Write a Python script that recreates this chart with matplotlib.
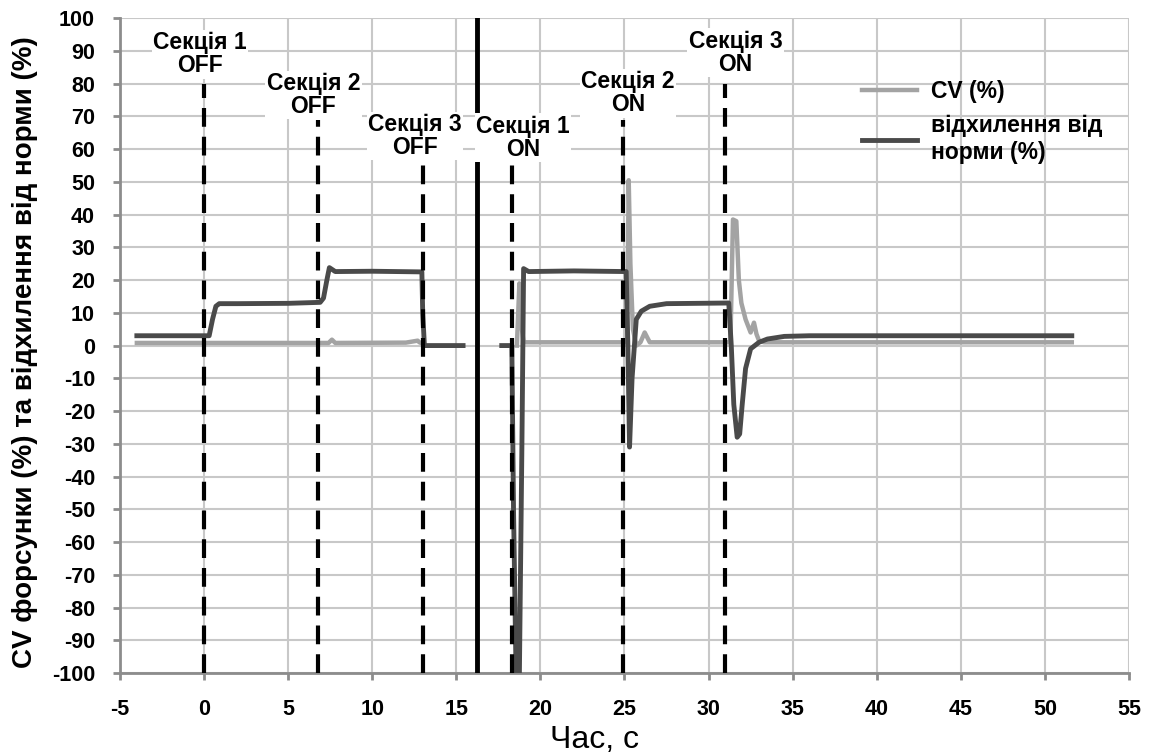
import numpy as np
import matplotlib
matplotlib.use("Agg")
import matplotlib.pyplot as plt

plt.rcParams['font.family'] = ['Liberation Sans', 'DejaVu Sans']
plt.rcParams['axes.unicode_minus'] = False

# відхилення від норми (%)
dev_t1 = [-4.0, 0.3, 0.5, 0.7, 0.9, 2.0, 5.0, 6.9, 7.1, 7.3, 7.45, 7.8, 10.0, 12.95, 13.0, 13.1, 15.4]
dev_v1 = [3.0, 3.0, 8.0, 12.0, 12.8, 12.8, 12.9, 13.2, 14.5, 20.0, 23.8, 22.6, 22.7, 22.5, 10.0, 0.0, 0.0]
dev_t2 = [17.7, 18.3, 18.4, 18.55, 18.75, 18.9, 19.0, 19.3, 22.0, 25.1, 25.2, 25.3, 25.45, 25.7, 26.0,
          26.5, 27.5, 31.2, 31.35, 31.5, 31.7, 31.85, 32.0, 32.2, 32.5, 33.0, 33.5, 34.5, 36.0, 51.6]
dev_v2 = [0.0, 0.0, -50.0, -100.0, -100.0, -30.0, 23.5, 22.6, 22.8, 22.6, 0.0, -31.0, -10.0, 8.0, 10.5,
          12.0, 12.8, 13.0, 0.0, -18.0, -28.0, -27.0, -18.0, -7.0, -1.0, 1.0, 2.0, 2.8, 3.0, 3.0]

# CV (%)
cv_t1 = [-4.0, 3.0, 7.4, 7.6, 7.8, 12.0, 12.7, 12.8, 12.9]
cv_v1 = [0.8, 0.8, 0.8, 1.8, 0.8, 0.9, 1.5, 1.0, 0.8]
cv_t2 = [18.6, 18.75, 18.9, 19.0, 22.0, 25.15, 25.25, 25.35, 25.5, 25.7, 25.95, 26.2, 26.5, 31.3, 31.45,
         31.65, 31.8, 31.95, 32.2, 32.5, 32.7, 32.85, 33.0, 33.3, 40.0, 51.6]
cv_v2 = [0.0, 19.0, 5.0, 1.0, 1.0, 1.0, 50.5, 25.0, 5.0, 0.0, 1.0, 4.0, 1.0, 1.0, 38.5,
         38.0, 20.0, 13.0, 8.0, 4.0, 7.0, 3.5, 1.5, 1.0, 1.0, 1.0]

# події
event_t = [0.0, 6.75, 13.0, 18.3, 24.9, 31.0]
event_top = [80, 69, 60, 56, 69, 80]
event_names = ['Секція 1\nOFF', 'Секція 2\nOFF', 'Секція 3\nOFF', 'Секція 1\nON', 'Секція 2\nON', 'Секція 3\nON']
label_x = [-0.25, 6.5, 12.55, 18.95, 25.2, 31.6]
label_y = [89.0, 76.5, 64.0, 63.5, 77.0, 89.5]
split_t = 16.25

c_dev = '#4a4a4a'
c_cv = '#a3a3a3'

fig = plt.figure(figsize=(11.52, 7.56), dpi=100)
ax = fig.add_axes([0.1042, 0.1098, 0.8758, 0.8662])

ax.plot(cv_t1, cv_v1, color=c_cv, lw=3.2, solid_joinstyle='round', zorder=3)
ax.plot(cv_t2, cv_v2, color=c_cv, lw=3.2, solid_joinstyle='round', zorder=3)
ax.plot(dev_t1, dev_v1, color=c_dev, lw=3.5, solid_joinstyle='round', zorder=4)
ax.plot(dev_t2, dev_v2, color=c_dev, lw=3.5, solid_joinstyle='round', zorder=4)

for t, top in zip(event_t, event_top):
    ax.plot([t, t], [-100, top], color='black', lw=3, linestyle=(0, (4.5, 2.4)), zorder=5)
ax.axvline(split_t, color='black', lw=3.5, zorder=5)

for x, y, s in zip(label_x, label_y, event_names):
    ax.text(x, y, s, ha='center', va='center', fontsize=16.5, fontweight='bold',
            linespacing=1.0, zorder=6,
            bbox=dict(facecolor='white', edgecolor='none', pad=1.0))

ax.set_xlim(-5, 55)
ax.set_ylim(-100, 100)
ax.set_xticks(np.arange(-5, 56, 5))
ax.set_yticks(np.arange(-100, 101, 10))
ax.grid(True, color='#c8c8c8', lw=1.5, zorder=0)
ax.set_axisbelow(True)
for side in ['top', 'right']:
    ax.spines[side].set_visible(False)
for side in ['left', 'bottom']:
    ax.spines[side].set_color('#8c8c8c')
    ax.spines[side].set_linewidth(2)
ax.tick_params(direction='out', length=5, width=2, color='#8c8c8c', labelsize=15.5)
ax.tick_params(axis='y', pad=13)
ax.tick_params(axis='x', pad=13.5)
for lab in ax.get_xticklabels() + ax.get_yticklabels():
    lab.set_fontweight('bold')

ax.set_ylabel('CV форсунки (%) та відхилення від норми (%)', fontsize=20, fontweight='bold')
ax.yaxis.set_label_coords(-0.081, 0.49)
ax.set_xlabel('Час, с', fontsize=23)
ax.xaxis.set_label_coords(0.47, -0.079)

h1, = ax.plot([], [], color=c_cv, lw=3.2)
h2, = ax.plot([], [], color=c_dev, lw=3.5)
ax.legend([h1, h2], ['CV (%)', 'відхилення від\nнорми (%)'], loc='upper left',
          bbox_to_anchor=(0.715, 0.937), frameon=False, handlelength=2.4,
          prop={'size': 16.5, 'weight': 'bold'}, labelspacing=0.5, handletextpad=0.6)

fig.savefig('out.png', dpi=100)
